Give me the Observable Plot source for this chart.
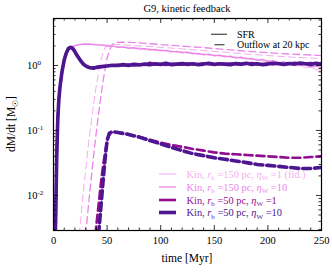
<!DOCTYPE html>
<html><head><meta charset="utf-8">
<script src="https://cdn.jsdelivr.net/npm/d3@7"></script>
<script src="https://cdn.jsdelivr.net/npm/@observablehq/plot@0.6"></script>
<style>
body{margin:0;background:#fff;font-family:"Liberation Serif","Times New Roman",Times,"DejaVu Serif",serif;width:332px;height:274px;overflow:hidden;}
#title{height:16px;line-height:18px;text-align:center;font-size:10.5px;padding-left:42px;box-sizing:border-box;width:332px;}
svg{display:block;}
</style></head><body>
<div id="title">G9, kinetic feedback</div>
<div id="chart"></div>
<script>
// ---- data ----
const seriesNames = ["Kin, rb=150 pc, ηW=1 (fid.)", "Kin, rb=150 pc, ηW=10", "Kin, rb=50 pc, ηW=1", "Kin, rb=50 pc, ηW=10"];
const seriesColors = ["#f4aef0", "#ea84ea", "#920c92", "#4e1590"];

const tSfr = [0,1,2,3,4,5,6,8,10,12,14,16,18,20,22,25,28,31,34,37,
  40,45,50,55,60,65,70,75,80,85,90,95,100,105,110,115,120,125,130,135,140,145,150,155,160,165,170,175,180,185,190,195,200,205,210,215,220,225,230,235,240,245,250];

const sfrR150W1 = [0.0005,0.001,0.004,0.04,0.15,0.3,0.45,0.8,1.2,1.55,1.82,1.92,1.98,2.03,2.08,2.12,2.15,2.15,2.14,2.12,
  2.1,2.04,2.06,1.95,1.97,1.88,1.92,1.82,1.86,1.76,1.8,1.7,1.75,1.66,1.68,1.6,1.63,1.54,1.57,1.48,1.52,1.43,1.46,1.38,1.42,1.33,1.36,1.27,1.31,1.22,1.25,1.16,1.2,1.1,1.13,1.04,1.07,0.98,1.01,0.92,0.95,0.86,0.84];
const sfrR150W10 = [0.0005,0.001,0.004,0.04,0.15,0.3,0.45,0.8,1.2,1.55,1.82,1.9,1.96,2.0,2.05,2.1,2.12,2.13,2.12,2.1,
  2.08,2.07,1.98,2.0,1.9,1.93,1.84,1.88,1.78,1.82,1.73,1.77,1.68,1.71,1.62,1.65,1.57,1.6,1.51,1.54,1.46,1.49,1.41,1.44,1.36,1.39,1.3,1.34,1.26,1.29,1.2,1.24,1.15,1.19,1.1,1.14,1.05,1.09,1.0,1.03,0.95,0.98,0.93];
const sfrR50W1 = [0.0005,0.001,0.004,0.04,0.15,0.3,0.45,0.8,1.2,1.55,1.82,1.92,1.85,1.65,1.45,1.22,1.06,0.98,0.93,0.92,
  0.95,0.97,0.99,1.0,1.02,1.01,1.03,1.0,1.04,1.02,1.1,1.03,1.05,1.02,1.06,1.04,1.03,1.07,1.05,1.04,1.08,1.05,1.03,1.06,1.04,1.07,1.05,1.03,1.06,1.09,1.05,1.04,1.07,1.05,1.08,1.04,1.06,1.1,1.05,1.07,1.09,1.06,1.08];
const sfrR50W10 = [0.0005,0.001,0.004,0.04,0.15,0.3,0.46,0.82,1.22,1.57,1.83,1.9,1.82,1.62,1.42,1.2,1.04,0.96,0.92,0.91,
  0.93,0.96,0.98,1.01,1.0,1.03,1.0,1.04,1.02,1.05,1.03,1.06,1.04,1.08,1.03,1.05,1.07,1.04,1.06,1.03,1.05,1.08,1.04,1.06,1.05,1.03,1.07,1.05,1.08,1.04,1.06,1.03,1.05,1.08,1.06,1.04,1.07,1.05,1.09,1.06,1.04,1.08,1.05];

const tOutR150W1 = [24,28,32,36,40,44,48,52,56,60,70,80,90,100,120,140,160,180,200,220,240,250];
const outR150W1  = [0.0025,0.012,0.05,0.17,0.5,1.2,1.9,2.1,2.12,2.1,2.05,2.0,1.96,1.9,1.8,1.7,1.6,1.5,1.42,1.35,1.3,1.28];
const tOutR150W10 = [30,34,38,42,46,50,54,58,62,70,80,100,120,140,160,180,200,220,240,250];
const outR150W10  = [0.0025,0.012,0.05,0.18,0.55,1.3,2.05,2.25,2.28,2.27,2.22,2.1,1.98,1.88,1.76,1.66,1.57,1.5,1.45,1.42];
const tOutR50W1 = [39,41,43,45,47,49,51,53,55,60,70,80,90,100,110,120,130,140,150,160,170,180,190,200,210,220,230,240,250];
const outR50W1  = [0.0025,0.005,0.01,0.02,0.035,0.055,0.08,0.092,0.096,0.093,0.087,0.08,0.072,0.065,0.06,0.056,0.052,0.049,0.046,0.044,0.043,0.042,0.041,0.04,0.039,0.038,0.038,0.039,0.04];
const tOutR50W10 = [42,44,46,48,50,52,55,60,70,80,90,100,110,120,130,140,150,160,170,180,190,200,210,220,230,240,250];
const outR50W10  = [0.0025,0.006,0.015,0.035,0.07,0.09,0.096,0.093,0.087,0.079,0.07,0.062,0.055,0.049,0.044,0.041,0.038,0.036,0.034,0.032,0.03,0.029,0.028,0.027,0.026,0.026,0.027];

const xMajor = [0,50,100,150,200,250];
const xMinor = [10,20,30,40,60,70,80,90,110,120,130,140,160,170,180,190,210,220,230,240];
const yMajor = [0.01,0.1,1];
const yMajorLabels = [["10","-2"],["10","-1"],["10","0"]];
const yMinor = [0.003,0.004,0.005,0.006,0.007,0.008,0.009,0.02,0.03,0.04,0.05,0.06,0.07,0.08,0.09,0.2,0.3,0.4,0.5,0.6,0.7,0.8,0.9,2,3,4,5];
const yDomain = [0.00289, 5.28];

// ---- layout ----
const FONT = '"Liberation Serif", "Times New Roman", Times, "DejaVu Serif", serif';
const W=332, H=258, mL=53, mR=11, mT=2, mB=44;
const plotW = W-mL-mR, plotH = H-mT-mB;

const mk = (ts, vs) => ts.map((t,i)=>({t, v: vs[i]}));
const sfr = [sfrR150W1, sfrR150W10, sfrR50W1, sfrR50W10].map(v=>mk(tSfr, v));
const outs = [mk(tOutR150W1,outR150W1), mk(tOutR150W10,outR150W10), mk(tOutR50W1,outR50W1), mk(tOutR50W10,outR50W10)];
const widths = [1, 1.3, 2.6, 3.6];

const lineMarks = [];
for (let i=0;i<4;i++) {
  lineMarks.push(Plot.line(outs[i], {x:"t", y:"v", stroke: seriesColors[i], strokeWidth: widths[i], strokeDasharray: i<2 ? "7,4" : "8,4", clip: true}));
}
for (let i=0;i<4;i++) {
  lineMarks.push(Plot.line(sfr[i], {x:"t", y:"v", stroke: seriesColors[i], strokeWidth: widths[i], strokeLinejoin:"round", clip: true}));
}

const tk = {stroke:"#000", strokeWidth: 0.8};
const plot = Plot.plot({
  width: W, height: H, marginLeft: mL, marginRight: mR, marginTop: mT, marginBottom: mB,
  style: {fontFamily: FONT, fontSize: "10.5px", color: "#000", background: "#fff", overflow: "visible"},
  x: {domain: [0,250], label: null},
  y: {type: "log", domain: yDomain, axis: null},
  marks: [
    ...lineMarks,
    Plot.axisX(xMajor, {tickSize: 0, tickPadding: 6, label: null, fontSize: 10.5}),
    Plot.tickX(xMajor, {x: d=>d, insetTop: plotH-5, ...tk}),
    Plot.tickX(xMajor, {x: d=>d, insetBottom: plotH-5, ...tk}),
    Plot.tickX(xMinor, {x: d=>d, insetTop: plotH-2.5, ...tk}),
    Plot.tickX(xMinor, {x: d=>d, insetBottom: plotH-2.5, ...tk}),
    Plot.tickY(yMajor, {y: d=>d, insetRight: plotW-5, ...tk}),
    Plot.tickY(yMajor, {y: d=>d, insetLeft: plotW-5, ...tk}),
    Plot.tickY(yMinor, {y: d=>d, insetRight: plotW-2.5, ...tk}),
    Plot.tickY(yMinor, {y: d=>d, insetLeft: plotW-2.5, ...tk}),
    Plot.frame({stroke: "#000", strokeWidth: 1.2})
  ]
});
document.getElementById("chart").appendChild(plot);

// ---- text overlays (real text) ----
const svg = d3.select(plot);
const ys = plot.scale("y");
const g = svg.append("g").attr("font-family", FONT).attr("fill", "#000").attr("text-anchor","start");

// y tick labels
yMajor.forEach((v,i)=>{
  const t = g.append("text").attr("x", 27).attr("y", ys.apply(v)).attr("dy","0.35em").attr("font-size", 10.5).attr("text-anchor","start");
  t.append("tspan").text(yMajorLabels[i][0]);
  t.append("tspan").attr("dy", -4).attr("font-size", 7).text(yMajorLabels[i][1]);
});

// axis labels
g.append("text").attr("x", mL + plotW/2).attr("y", 242).attr("text-anchor","middle").attr("dy","0.35em").attr("font-size", 11.5).text("time [Myr]");
const yl = g.append("text").attr("transform", `translate(11,${mT+plotH/2}) rotate(-90)`).attr("text-anchor","middle").attr("dy","0.35em").attr("font-size", 11.5);
yl.append("tspan").text("dM/dt [M");
yl.append("tspan").attr("dy", 2.5).attr("font-size", 8).text("☉");
yl.append("tspan").attr("dy", -2.5).text("]");

// style legend
const lg1 = ["SFR", "Outflow at 20 kpc"];
[18.3, 28.7].forEach((yy,i)=>{
  if (i===0) g.append("line").attr("x1",211).attr("x2",227).attr("y1",yy).attr("y2",yy).attr("stroke","#555").attr("stroke-width",1.3);
  else g.append("line").attr("x1",214.5).attr("x2",224.5).attr("y1",yy).attr("y2",yy).attr("stroke","#555").attr("stroke-width",1.3);
  g.append("text").attr("x",237).attr("y",yy).attr("dy","0.35em").attr("font-size",10).attr("text-anchor","start").text(lg1[i]);
});

// series legend
const legendParts = [
  [["Kin, "],["r","i"],["b","s"],[" =150 pc, "],["η","i"],["W","s"],[" =1 (fid.)"]],
  [["Kin, "],["r","i"],["b","s"],[" =150 pc, "],["η","i"],["W","s"],[" =10"]],
  [["Kin, "],["r","i"],["b","s"],[" =50 pc, "],["η","i"],["W","s"],[" =1"]],
  [["Kin, "],["r","i"],["b","s"],[" =50 pc, "],["η","i"],["W","s"],[" =10"]]
];
const rowY = [158, 171, 184, 196.5];
legendParts.forEach((parts,i)=>{
  const yy = rowY[i];
  g.append("line").attr("x1",159).attr("x2",176).attr("y1",yy).attr("y2",yy).attr("stroke",seriesColors[i]).attr("stroke-width",widths[i]);
  const t = g.append("text").attr("x",186.5).attr("y",yy).attr("dy","0.35em").attr("font-size",10.4).attr("fill",seriesColors[i]).attr("text-anchor","start").style("white-space","pre");
  let shifted = false;
  parts.forEach(p=>{
    const s = t.append("tspan").text(p[0]);
    if (p[1]==="i") s.attr("font-style","italic");
    if (p[1]==="s") { s.attr("dy", 2.5).attr("font-size", 7); shifted = true; }
    else if (shifted) { s.attr("dy", -2.5); shifted = false; }
  });
});
</script>
</body></html>
